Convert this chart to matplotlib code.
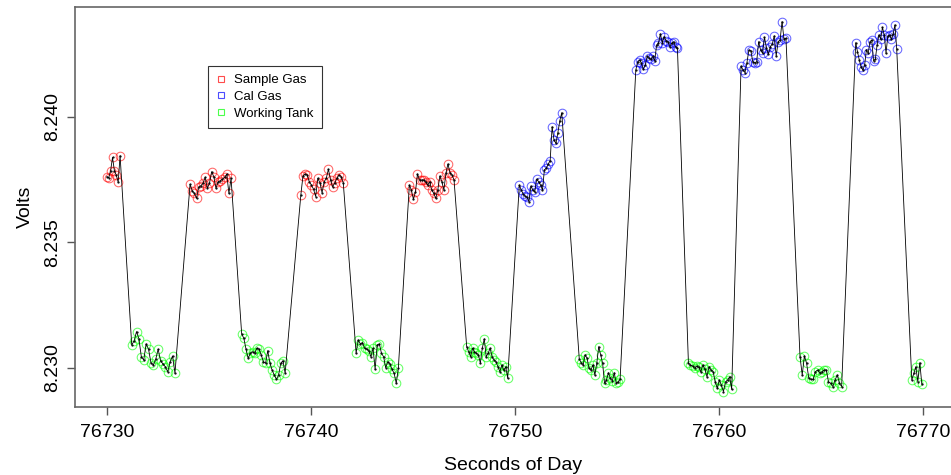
import numpy as np
import matplotlib
matplotlib.use("Agg")
import matplotlib.pyplot as plt

plt.rcParams['font.family'] = ['Liberation Sans', 'DejaVu Sans']

# Detector voltage, one list per valve period (sample gas / cal gas / working tank)
sample_1 = [8.23762, 8.23758, 8.23786, 8.23839, 8.23786, 8.23768, 8.23740, 8.23846]
tank_1 = [8.23092, 8.23108, 8.23145, 8.23116, 8.23045, 8.23032, 8.23096, 8.23075,
          8.23021, 8.23012, 8.23035, 8.23075, 8.23029, 8.23016, 8.23005, 8.22985,
          8.23025, 8.23048, 8.22979]
sample_2 = [8.23732, 8.23706, 8.23696, 8.23676, 8.23722, 8.23726, 8.23736, 8.23760,
            8.23716, 8.23736, 8.23782, 8.23762, 8.23716, 8.23742, 8.23746, 8.23752,
            8.23760, 8.23772, 8.23696, 8.23756]
tank_2 = [8.23136, 8.23118, 8.23075, 8.23039, 8.23059, 8.23065, 8.23059, 8.23079,
          8.23075, 8.23052, 8.23025, 8.23019, 8.23069, 8.23019, 8.22992, 8.22972,
          8.22955, 8.22972, 8.23019, 8.23029, 8.22979]
sample_3 = [8.23689, 8.23765, 8.23773, 8.23769, 8.23742, 8.23729, 8.23712, 8.23683,
            8.23756, 8.23738, 8.23698, 8.23742, 8.23756, 8.23792, 8.23749, 8.23722,
            8.23738, 8.23756, 8.23769, 8.23762, 8.23738]
tank_3 = [8.23059, 8.23112, 8.23096, 8.23101, 8.23079, 8.23075, 8.23069, 8.23045,
          8.23079, 8.22995, 8.23092, 8.23096, 8.23059, 8.23045, 8.23001, 8.23025,
          8.23016, 8.22995, 8.22979, 8.22939, 8.22999]
sample_4 = [8.23729, 8.23709, 8.23672, 8.23702, 8.23773, 8.23749, 8.23749, 8.23749,
            8.23742, 8.23729, 8.23742, 8.23709, 8.23696, 8.23676, 8.23709, 8.23765,
            8.23742, 8.23709, 8.23776, 8.23813, 8.23778, 8.23769, 8.23749]
tank_4 = [8.23085, 8.23065, 8.23045, 8.23079, 8.23065, 8.23059, 8.23052, 8.23019,
          8.23079, 8.23116, 8.23045, 8.23059, 8.23079, 8.23045, 8.23032, 8.23025,
          8.23005, 8.22985, 8.23012, 8.22992, 8.23005, 8.22959]
cal_1 = [8.23729, 8.23709, 8.23693, 8.23685, 8.23680, 8.23663, 8.23725, 8.23709,
         8.23702, 8.23752, 8.23742, 8.23729, 8.23709, 8.23789, 8.23796, 8.23813,
         8.23826, 8.23961, 8.23908, 8.23895, 8.23938, 8.23985, 8.24017]
tank_5 = [8.23035, 8.23021, 8.23012, 8.23052, 8.23039, 8.22999, 8.22992, 8.23012,
          8.22972, 8.23019, 8.23085, 8.23052, 8.23019, 8.22939, 8.22952, 8.22981,
          8.22959, 8.22949, 8.22981, 8.22939, 8.22945, 8.22955]
cal_2 = [8.24187, 8.24220, 8.24227, 8.24214, 8.24190, 8.24207, 8.24241, 8.24234,
         8.24230, 8.24241, 8.24224, 8.24287, 8.24294, 8.24331, 8.24296, 8.24320,
         8.24304, 8.24300, 8.24280, 8.24294, 8.24300, 8.24280, 8.24274]
tank_6 = [8.23019, 8.23012, 8.23008, 8.22999, 8.23008, 8.23003, 8.22985, 8.23012,
          8.22995, 8.22965, 8.23005, 8.22992, 8.22985, 8.22945, 8.22919, 8.22952,
          8.22932, 8.22906, 8.22945, 8.22952, 8.22965, 8.22915]
cal_3 = [8.24203, 8.24187, 8.24177, 8.24216, 8.24267, 8.24264, 8.24220, 8.24216,
         8.24220, 8.24300, 8.24267, 8.24254, 8.24318, 8.24274, 8.24251, 8.24280,
         8.24291, 8.24323, 8.24243, 8.24300, 8.24307, 8.24380, 8.24310, 8.24314]
tank_7 = [8.23045, 8.22972, 8.23048, 8.23019, 8.22959, 8.22955, 8.22955, 8.22985,
          8.22992, 8.22981, 8.22985, 8.22992, 8.22992, 8.22945, 8.22939, 8.22926,
          8.22952, 8.22972, 8.22939, 8.22926]
cal_4 = [8.24296, 8.24260, 8.24227, 8.24200, 8.24187, 8.24207, 8.24267, 8.24254,
         8.24300, 8.24307, 8.24224, 8.24230, 8.24287, 8.24327, 8.24310, 8.24357,
         8.24327, 8.24254, 8.24323, 8.24327, 8.24310, 8.24331, 8.24367, 8.24270]
tank_8 = [8.22952, 8.22979, 8.23005, 8.22945, 8.23021, 8.22936]

# Valve periods in time order: (label, volts, first sample, last sample)
periods = [
    ("sample", sample_1, 76729.99, 76730.64),
    ("tank", tank_1, 76731.21, 76733.33),
    ("sample", sample_2, 76734.07, 76736.08),
    ("tank", tank_2, 76736.60, 76738.73),
    ("sample", sample_3, 76739.50, 76741.58),
    ("tank", tank_3, 76742.21, 76744.28),
    ("sample", sample_4, 76744.82, 76747.01),
    ("tank", tank_4, 76747.63, 76749.64),
    ("cal", cal_1, 76750.21, 76752.29),
    ("tank", tank_5, 76753.15, 76755.15),
    ("cal", cal_2, 76755.92, 76757.96),
    ("tank", tank_6, 76758.50, 76760.62),
    ("cal", cal_3, 76761.08, 76763.28),
    ("tank", tank_7, 76763.97, 76766.01),
    ("cal", cal_4, 76766.70, 76768.71),
    ("tank", tank_8, 76769.45, 76769.94),
]

colours = {"sample": "#ff0000", "cal": "#0000ff", "tank": "#00ff00"}
legend_names = ["Sample Gas", "Cal Gas", "Working Tank"]
x_ticks = [76730, 76740, 76750, 76760, 76770]
y_ticks = [8.230, 8.235, 8.240]

fig = plt.figure(figsize=(9.51, 4.75), dpi=100)
ax = fig.add_axes([75 / 951, 68 / 475, 877 / 951, 400 / 475])

all_t, all_v = [], []
for kind, volts, t0, t1 in periods:
    t = np.linspace(t0, t1, len(volts))
    all_t.append(t)
    all_v.append(np.asarray(volts))
    ax.plot(t, volts, linestyle="none", marker="o", markersize=6.2,
            markerfacecolor="none", markeredgecolor=colours[kind],
            markeredgewidth=0.75, alpha=0.6, zorder=2)
all_t = np.concatenate(all_t)
all_v = np.concatenate(all_v)
ax.plot(all_t, all_v, color="black", linewidth=0.6, marker=".",
        markersize=1.2, zorder=3)

ax.set_xlim(76728.43, 76771.42)
ax.set_ylim(8.228446, 8.244382)

ax.set_xticks(x_ticks)
ax.set_xticklabels([str(v) for v in x_ticks], fontsize=14)
ax.set_yticks(y_ticks)
ax.set_yticklabels([f"{v:.3f}" for v in y_ticks], fontsize=14,
                   rotation=90, va="center")
ax.tick_params(axis="x", length=6, width=1.0, color="#555555", pad=6)
ax.tick_params(axis="y", length=6, width=1.0, color="#555555", pad=4)

for s in ax.spines.values():
    s.set_color("#666666")
    s.set_linewidth(1.2)

ax.set_xlabel("Seconds of Day", fontsize=14, labelpad=12)
ax.set_ylabel("Volts", fontsize=14, labelpad=7)

handles = [plt.Line2D([], [], linestyle="none", marker="s", markersize=5,
                      markerfacecolor="none", markeredgecolor=colours[k],
                      markeredgewidth=0.8, alpha=0.7)
           for k in ("sample", "cal", "tank")]
leg = ax.legend(handles, legend_names, loc="upper left",
                bbox_to_anchor=((208 - 75) / 877, 1 - (66 - 7) / 400),
                borderaxespad=0, fontsize=9.5, frameon=True, fancybox=False,
                edgecolor="black", handlelength=0.8, handletextpad=0.6,
                labelspacing=0.35, borderpad=0.6)
leg.get_frame().set_linewidth(0.8)

fig.savefig("out.png", dpi=100)
